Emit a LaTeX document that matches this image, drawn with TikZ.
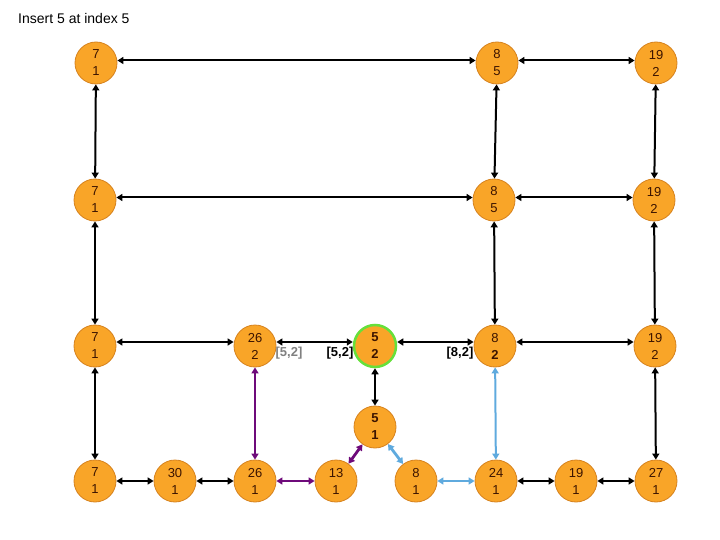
\documentclass[tikz,border=0pt]{standalone}
\usepackage{fontspec}
\setmainfont{Liberation Sans}
\usetikzlibrary{arrows.meta}
\definecolor{nodefill}{RGB}{249,165,40}
\definecolor{nodeedge}{RGB}{214,130,30}
\definecolor{nodetext}{RGB}{60,20,0}
\definecolor{ringgreen}{RGB}{102,224,58}
\definecolor{purp}{RGB}{110,10,122}
\definecolor{lblue}{RGB}{95,170,222}
\definecolor{lblgrey}{RGB}{128,128,128}
\tikzset{
  vnode/.style={circle, fill=nodefill, draw=nodeedge, line width=0.8pt, minimum size=42pt, inner sep=0pt,
    text=nodetext, font=\fontsize{13}{17}\selectfont, align=center},
  hinode/.style={vnode, draw=ringgreen, line width=2.5pt},
  link/.style={{Triangle[width=7pt,length=6pt]}-{Triangle[width=7pt,length=6pt]}, line width=2pt, black},
  plink/.style={link, purp, line width=2.8pt},
  blink/.style={link, lblue, line width=2.8pt},
  lbl/.style={font=\fontsize{13}{15}\selectfont\bfseries, inner sep=0pt}
}
\begin{document}
\begin{tikzpicture}[x=1pt,y=-1pt]
\useasboundingbox (0,0) rectangle (720,540);
\node[anchor=west, font=\fontsize{14}{16}\selectfont, inner sep=0pt] (title) at (18,18) {Insert 5 at index 5};
% row 1
\node[vnode] (a1) at (96,63) {7\\1};
\node[vnode] (a2) at (497,63) {8\\5};
\node[vnode] (a3) at (656,63) {19\\2};
% row 2
\node[vnode] (b1) at (95,200) {7\\1};
\node[vnode] (b2) at (494,200) {8\\5};
\node[vnode] (b3) at (654,200) {19\\2};
% row 3
\node[vnode] (c1) at (95,346) {7\\1};
\node[vnode] (c2) at (255,346) {26\\2};
\node[hinode] (c3) at (375,346) {\textbf{5}\\\textbf{2}};
\node[vnode] (c4) at (495,346) {8\\\textbf{2}};
\node[vnode] (c5) at (655,346) {19\\2};
% new node
\node[vnode] (d) at (375,427) {\textbf{5}\\\textbf{1}};
% row 4
\node[vnode] (e1) at (95,481) {7\\1};
\node[vnode] (e2) at (175,481) {30\\1};
\node[vnode] (e3) at (255,481) {26\\1};
\node[vnode] (e4) at (336,481) {13\\1};
\node[vnode] (e5) at (416,481) {8\\1};
\node[vnode] (e6) at (496,481) {24\\1};
\node[vnode] (e7) at (576,481) {19\\1};
\node[vnode] (e8) at (656,481) {27\\1};
% labels
\node[lbl, text=lblgrey] (l1) at (289,353) {[5,2]};
\node[lbl] (l2) at (340,353) {[5,2]};
\node[lbl] (l3) at (460,353) {[8,2]};
% horizontal links
\draw[link] ([yshift=2.5pt]a1.east) -- ([yshift=2.5pt]a2.west);
\draw[link] ([yshift=2.5pt]a2.east) -- ([yshift=2.5pt]a3.west);
\draw[link] ([yshift=2.5pt]b1.east) -- ([yshift=2.5pt]b2.west);
\draw[link] ([yshift=2.5pt]b2.east) -- ([yshift=2.5pt]b3.west);
\draw[link] ([yshift=4pt]c1.east) -- ([yshift=4pt]c2.west);
\draw[link] ([yshift=4pt]c2.east) -- ([yshift=4pt]c3.west);
\draw[link] ([yshift=4pt]c3.east) -- ([yshift=4pt]c4.west);
\draw[link] ([yshift=4pt]c4.east) -- ([yshift=4pt]c5.west);
\draw[link] (e1) -- (e2);
\draw[link] (e2) -- (e3);
\draw[plink] (e3) -- (e4);
\draw[blink] (e5) -- (e6);
\draw[link] (e6) -- (e7);
\draw[link] (e7) -- (e8);
% vertical links
\draw[link] (a1) -- (b1);
\draw[link] (a2) -- (b2);
\draw[link] (a3) -- (b3);
\draw[link] (b1) -- (c1);
\draw[link] (b2) -- (c4);
\draw[link] (b3) -- (c5);
\draw[link] (c1) -- (e1);
\draw[link] (c5) -- (e8);
\draw[link] (c3) -- (d);
\draw[plink, line width=2.4pt] (c2) -- (e3);
\draw[blink, line width=2pt] (c4) -- (e6);
% diagonals
\draw[plink] (e4) -- (d);
\draw[blink] (d) -- (e5);
\end{tikzpicture}
\end{document}
